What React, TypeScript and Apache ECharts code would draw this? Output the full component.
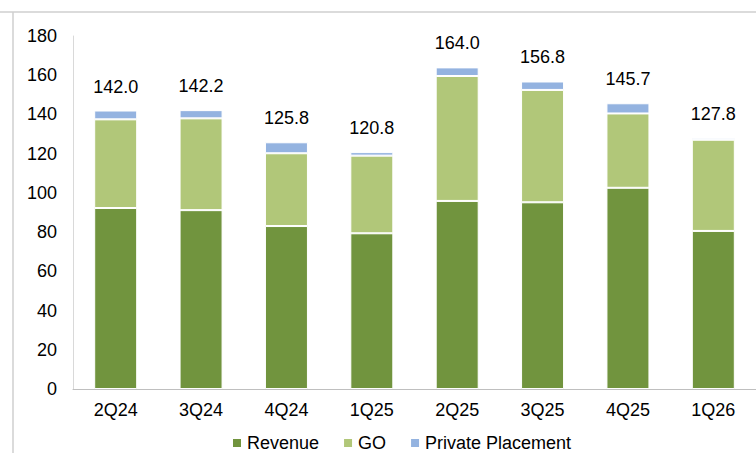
import React, { useEffect, useRef } from "react";
import * as echarts from "echarts";

const categories = ["2Q24", "3Q24", "4Q24", "1Q25", "2Q25", "3Q25", "4Q25", "1Q26"];
const revenue = [92.3, 91.2, 83.1, 79.4, 95.9, 95.2, 102.6, 80.6];
const go = [45.2, 46.8, 37.1, 39.6, 63.7, 57.3, 37.9, 46.5];
const privatePlacement = [4.5, 4.2, 5.6, 1.8, 4.4, 4.3, 5.2, 0.7];
const totals = [142.0, 142.2, 125.8, 120.8, 164.0, 156.8, 145.7, 127.8];
const yTicks = { min: 0, max: 180, interval: 20 };

const FONT = "'Liberation Sans', Arial, sans-serif";

export default function App() {
  const ref = useRef<HTMLDivElement>(null);
  useEffect(() => {
    if (!ref.current) return;
    const chart = echarts.init(ref.current, undefined, { renderer: "svg" });
    const barBase = {
      type: "bar" as const,
      stack: "total",
      barWidth: 43,
      itemStyle: { borderColor: "#ffffff", borderWidth: 1 },
    };
    chart.setOption({
      animation: false,
      backgroundColor: "#ffffff",
      textStyle: { fontFamily: FONT },
      grid: { left: 73, top: 36, width: 692, height: 353 },
      legend: {
        left: 231,
        top: 434,
        padding: 0,
        icon: "rect",
        itemWidth: 10,
        itemHeight: 10,
        itemGap: 23,
        textStyle: { fontSize: 18, color: "#000", fontFamily: FONT, lineHeight: 18 },
        data: ["Revenue", "GO", "Private Placement"],
      },
      xAxis: {
        type: "category",
        data: categories,
        axisLine: { lineStyle: { color: "#bfbfbf", width: 1 } },
        axisTick: { show: false },
        axisLabel: { color: "#000", fontSize: 18, margin: 12, fontFamily: FONT },
      },
      yAxis: {
        type: "value",
        min: yTicks.min,
        max: yTicks.max,
        interval: yTicks.interval,
        splitLine: { show: false },
        axisLine: { show: true, lineStyle: { color: "#d9d9d9", width: 1 } },
        axisTick: { show: false },
        axisLabel: { color: "#000", fontSize: 18, margin: 16, fontFamily: FONT },
      },
      graphic: [
        { type: "line", shape: { x1: 0, y1: 12, x2: 756, y2: 12 }, style: { stroke: "#cfcfcf", lineWidth: 1.5 } },
        { type: "line", shape: { x1: 13, y1: 12, x2: 13, y2: 453 }, style: { stroke: "#cfcfcf", lineWidth: 1.5 } },
      ],
      series: [
        { ...barBase, name: "Revenue", data: revenue, itemStyle: { ...barBase.itemStyle, color: "#71943e" } },
        { ...barBase, name: "GO", data: go, itemStyle: { ...barBase.itemStyle, color: "#b1c779" } },
        {
          ...barBase,
          name: "Private Placement",
          data: privatePlacement,
          itemStyle: { ...barBase.itemStyle, color: "#94b3e0" },
          label: {
            show: true,
            position: "top",
            distance: 15,
            color: "#000",
            fontSize: 18,
            fontFamily: FONT,
            formatter: (p: any) => totals[p.dataIndex].toFixed(1),
          },
        },
      ],
    });
    return () => chart.dispose();
  }, []);
  return (
    <div
      ref={ref}
      style={{ position: "fixed", left: 0, top: 0, width: 756, height: 453 }}
    />
  );
}
